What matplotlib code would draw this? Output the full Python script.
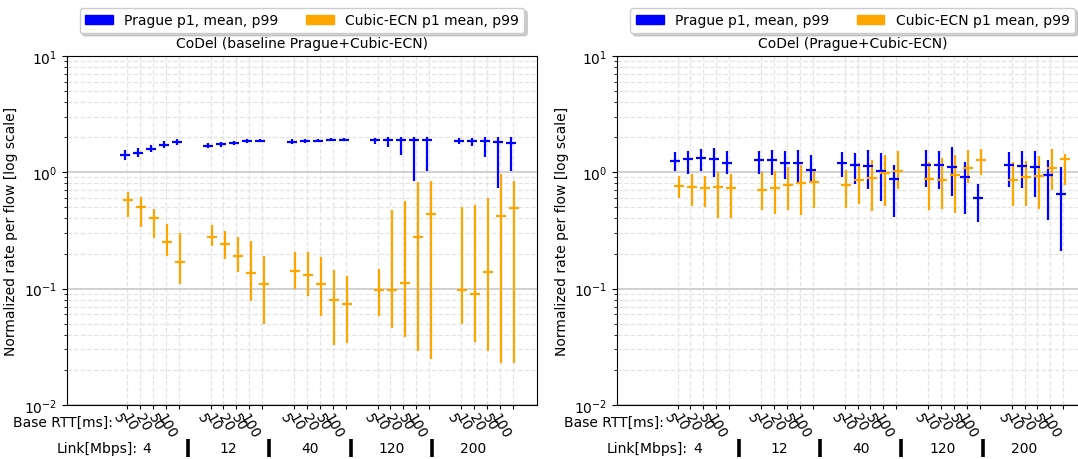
import numpy as np
import matplotlib.pyplot as plt
from matplotlib.patches import Patch

# link rates and base RTTs
links = ['4', '12', '40', '120', '200']
rtts = ['5', '10', '20', '50', '100']

# --- CoDel (baseline Prague+Cubic-ECN) ---
base_prague_mean = [[1.40, 1.46, 1.58, 1.71, 1.80],
                    [1.69, 1.73, 1.78, 1.85, 1.86],
                    [1.83, 1.85, 1.86, 1.90, 1.90],
                    [1.87, 1.89, 1.90, 1.89, 1.89],
                    [1.85, 1.86, 1.86, 1.83, 1.78]]
base_prague_p1 = [[1.28, 1.36, 1.49, 1.62, 1.72],
                  [1.61, 1.66, 1.71, 1.78, 1.80],
                  [1.76, 1.78, 1.80, 1.84, 1.84],
                  [1.76, 1.65, 1.41, 0.84, 1.03],
                  [1.75, 1.69, 1.36, 0.73, 1.02]]
base_prague_p99 = [[1.55, 1.60, 1.71, 1.84, 1.93],
                   [1.77, 1.82, 1.86, 1.93, 1.94],
                   [1.91, 1.93, 1.94, 1.98, 1.98],
                   [1.97, 1.99, 1.99, 1.99, 1.99],
                   [1.96, 1.98, 1.99, 1.99, 1.99]]
base_cubic_mean = [[0.58, 0.50, 0.40, 0.25, 0.17],
                   [0.28, 0.24, 0.19, 0.136, 0.11],
                   [0.142, 0.131, 0.109, 0.079, 0.073],
                   [0.098, 0.098, 0.111, 0.28, 0.44],
                   [0.098, 0.090, 0.138, 0.42, 0.49]]
base_cubic_p1 = [[0.41, 0.34, 0.27, 0.19, 0.11],
                 [0.23, 0.18, 0.14, 0.078, 0.050],
                 [0.10, 0.087, 0.058, 0.033, 0.034],
                 [0.058, 0.046, 0.038, 0.029, 0.025],
                 [0.050, 0.035, 0.029, 0.023, 0.023]]
base_cubic_p99 = [[0.68, 0.61, 0.48, 0.36, 0.30],
                  [0.35, 0.31, 0.28, 0.255, 0.19],
                  [0.205, 0.206, 0.187, 0.144, 0.127],
                  [0.146, 0.475, 0.57, 0.83, 0.84],
                  [0.50, 0.52, 0.60, 0.96, 0.84]]

# --- CoDel (Prague+Cubic-ECN) ---
mix_prague_mean = [[1.24, 1.29, 1.32, 1.29, 1.20],
                   [1.28, 1.26, 1.21, 1.19, 1.05],
                   [1.21, 1.15, 1.14, 1.03, 0.87],
                   [1.15, 1.16, 1.10, 0.90, 0.60],
                   [1.16, 1.12, 1.11, 0.94, 0.65]]
mix_prague_p1 = [[1.02, 0.96, 1.02, 0.91, 0.96],
                 [0.96, 0.94, 0.87, 0.81, 0.82],
                 [0.91, 0.785, 0.72, 0.57, 0.41],
                 [0.745, 0.71, 0.62, 0.44, 0.37],
                 [0.745, 0.735, 0.615, 0.39, 0.21]]
mix_prague_p99 = [[1.49, 1.52, 1.58, 1.62, 1.52],
                  [1.51, 1.56, 1.51, 1.55, 1.39],
                  [1.50, 1.45, 1.55, 1.46, 1.15],
                  [1.54, 1.51, 1.63, 1.23, 0.79],
                  [1.49, 1.52, 1.51, 1.28, 1.10]]
mix_cubic_mean = [[0.76, 0.74, 0.73, 0.74, 0.73],
                  [0.70, 0.73, 0.78, 0.80, 0.82],
                  [0.77, 0.85, 0.89, 0.98, 1.02],
                  [0.87, 0.855, 0.94, 1.09, 1.26],
                  [0.86, 0.90, 0.93, 1.08, 1.29]]
mix_cubic_p1 = [[0.60, 0.51, 0.50, 0.40, 0.40],
                [0.475, 0.44, 0.475, 0.43, 0.49],
                [0.49, 0.535, 0.46, 0.51, 0.72],
                [0.47, 0.48, 0.45, 0.81, 0.95],
                [0.51, 0.51, 0.48, 0.70, 0.78]]
mix_cubic_p99 = [[0.93, 0.96, 0.93, 1.00, 0.96],
                 [1.00, 1.02, 1.10, 1.15, 1.02],
                 [1.05, 1.19, 1.28, 1.41, 1.51],
                 [1.23, 1.32, 1.40, 1.55, 1.58],
                 [1.23, 1.25, 1.38, 1.57, 1.42]]

titles = ['CoDel (baseline Prague+Cubic-ECN)', 'CoDel (Prague+Cubic-ECN)']
panels = [
    (base_prague_mean, base_prague_p1, base_prague_p99, base_cubic_mean, base_cubic_p1, base_cubic_p99),
    (mix_prague_mean, mix_prague_p1, mix_prague_p99, mix_cubic_mean, mix_cubic_p1, mix_cubic_p99),
]

gstep = 6.46
xpos = np.array([g * gstep + i for g in range(len(links)) for i in range(len(rtts))])

fig = plt.figure(figsize=(10.78, 4.60), dpi=100)
axes = [fig.add_axes([0.0619, 0.1174, 0.4366, 0.7593]),
        fig.add_axes([0.5726, 0.1174, 0.4366, 0.7593])]

def draw_err(ax, x, mean, p1, p99, color):
    mean = np.ravel(mean)
    lo = mean - np.ravel(p1)
    hi = np.ravel(p99) - mean
    ax.errorbar(x, mean, yerr=[lo, hi], fmt='_', color=color, ecolor=color,
                elinewidth=1.6, markersize=7, markeredgewidth=1.6, capsize=0)

for ax, title, d in zip(axes, titles, panels):
    draw_err(ax, xpos - 0.17, d[0], d[1], d[2], 'blue')
    draw_err(ax, xpos + 0.10, d[3], d[4], d[5], 'orange')
    ax.set_yscale('log')
    ax.set_ylim(1e-2, 1e1)
    ax.set_xlim(-4.66, 4 * gstep + 4 + 1.9)
    ax.set_xticks(xpos)
    ax.set_xticklabels(rtts * len(links), rotation=-60, ha='right', fontsize=10)
    ax.tick_params(axis='x', pad=1, length=3)
    ax.grid(which='major', axis='y', color='#c8c8c8', lw=1.2)
    ax.grid(which='minor', axis='y', color='#e4e4e4', lw=0.9, ls='--')
    ax.grid(which='major', axis='x', color='#e4e4e4', lw=0.9, ls='--')
    ax.set_axisbelow(True)
    ax.set_ylabel('Normalized rate per flow [log scale]', fontsize=10)
    ax.set_title(title, fontsize=10)
    ax.legend(handles=[Patch(color='blue', label='Prague p1, mean, p99'),
                       Patch(color='orange', label='Cubic-ECN p1 mean, p99')],
              loc='lower center', bbox_to_anchor=(0.5, 1.065), ncol=2,
              borderaxespad=0, shadow={'color': '#b0b0b0', 'alpha': 0.6},
              fontsize=10)
    ax.text(0.098, -0.048, 'Base RTT[ms]:', transform=ax.transAxes,
            ha='right', va='center', fontsize=10)
    ax.text(0.150, -0.123, 'Link[Mbps]:', transform=ax.transAxes,
            ha='right', va='center', fontsize=10)
    for k, lab in enumerate(links):
        ax.text(0.170 + k * 0.1735, -0.123, lab, transform=ax.transAxes,
                ha='center', va='center', fontsize=10)
        if k < len(links) - 1:
            sx = 0.258 + k * 0.1727
            ax.plot([sx, sx], [-0.097, -0.149], transform=ax.transAxes,
                    color='black', lw=2.6, clip_on=False, solid_capstyle='butt')

fig.savefig('out.png', dpi=100)
